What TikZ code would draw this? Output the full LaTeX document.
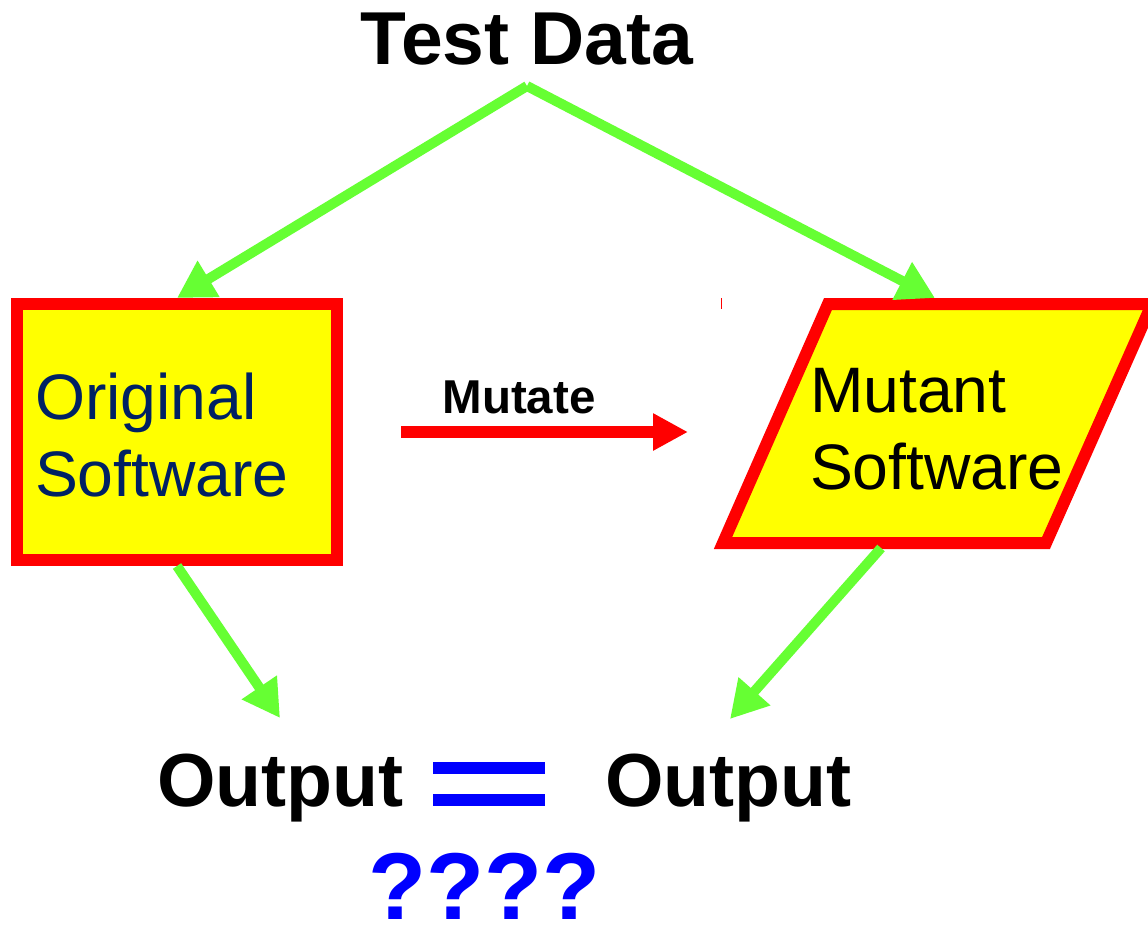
\documentclass[tikz,border=0pt]{standalone}
\usepackage{fontspec}
\setmainfont{Liberation Sans}
\usetikzlibrary{arrows.meta}
\definecolor{arrgreen}{RGB}{102,255,51}
\definecolor{navytext}{RGB}{0,33,99}
\definecolor{boxred}{RGB}{255,0,0}
\definecolor{boxyellow}{RGB}{255,255,0}
\definecolor{eqblue}{RGB}{0,0,255}
\tikzset{
  greenarrow/.style={draw=arrgreen, line width=10pt, -{Triangle[length=37pt,width=40pt]}},
  redarrow/.style={draw=boxred, line width=11.5pt, -{Triangle[length=35pt,width=35pt]}},
  swbox/.style={draw=boxred, fill=boxyellow, line width=12pt},
  txt/.style={inner sep=0pt, outer sep=0pt, anchor=base west},
  boxtxt/.style={txt, font=\fontsize{64.3}{77}\selectfont},
  bigbold/.style={inner sep=0pt, outer sep=0pt, font=\fontsize{75.2}{88}\selectfont\bfseries},
  eqbar/.style={fill=eqblue, draw=none}
}
\begin{document}
\begin{tikzpicture}[x=1pt,y=-1pt]
\useasboundingbox (0,0) rectangle (1148,924);
\fill[white] (0,0) rectangle (1148,924);

% Title
\node[inner sep=0pt, anchor=base, font=\fontsize{75}{88}\selectfont\bfseries] (title) at (527,64) {Test Data};
\coordinate (apex) at (527,86);

% Original software box
\node[swbox, minimum width=320pt, minimum height=256pt, inner sep=0pt, outer sep=6pt] (orig) at (177,432) {};
\node[boxtxt, text=navytext] (origA) at (35,419) {Original};
\node[boxtxt, text=navytext] (origB) at (35,496) {Software};

% Mutant software parallelogram
\coordinate (mTL) at (828,304);
\coordinate (mTR) at (1152,304);
\coordinate (mBR) at (1046,543);
\coordinate (mBL) at (723,543);
\draw[swbox, line join=miter] (mTL) -- (mTR) -- (mBR) -- (mBL) -- cycle;
\node[boxtxt, text=black] (mutA) at (810,412) {Mutant};
\node[boxtxt, text=black] (mutB) at (810,489) {Software};
\coordinate (mutTop) at (935,298);
\coordinate (mutBot) at (881,548);

% tiny red tick
\draw[boxred, line width=1pt] (721.5,298) coordinate (tickA) -- (721.5,309) coordinate (tickB);

% Mutate arrow
\node[inner sep=0pt, anchor=base, font=\fontsize{47.5}{56}\selectfont\bfseries] (mutate) at (519,413) {Mutate};
\coordinate (mutS) at (401,432);
\coordinate (mutE) at (688,432);
\draw[redarrow] (mutS) -- (mutE);

% Green arrows
\draw[greenarrow] (apex) -- (orig.north);
\draw[greenarrow] (apex) -- (mutTop);
\coordinate (outLtip) at (280,718);
\coordinate (outRtip) at (730,719);
\draw[greenarrow] (orig.south) -- (outLtip);
\draw[greenarrow] (mutBot) -- (outRtip);

% Outputs
\node[bigbold, anchor=base west] (outL) at (157,806) {Output};
\node[bigbold, anchor=base west] (outR) at (605,806) {Output};

% Equals sign
\fill[eqbar] (433,762) rectangle (545,774);
\fill[eqbar] (433,794) rectangle (545,806);

% Question marks
\node[inner sep=0pt, anchor=base west, text=eqblue, font=\fontsize{95}{112}\selectfont\bfseries] (q) at (368,919) {????};
\end{tikzpicture}
\end{document}
